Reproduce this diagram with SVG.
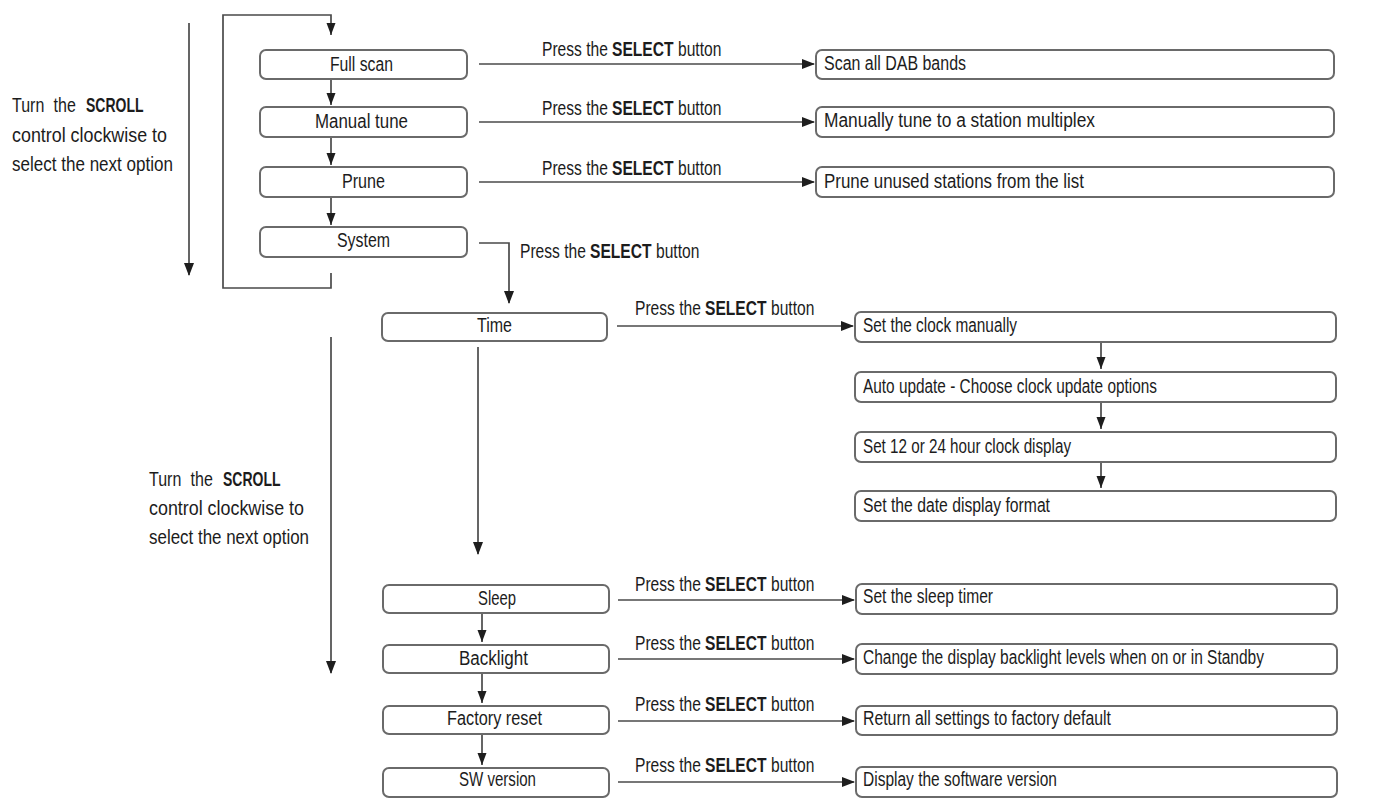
<svg xmlns="http://www.w3.org/2000/svg" width="1384" height="801" viewBox="0 0 1384 801">
<style>
text{font-family:"Liberation Sans",Arial,sans-serif;font-size:20px;fill:#1c1c1c}
.b{font-weight:bold}
.ws{word-spacing:6px}
.box{fill:#fff;stroke:#6a6a6a;stroke-width:2}
.ln{fill:none;stroke:#4a4a4a;stroke-width:1.7}
</style>
<defs>
<marker id="ah" markerUnits="userSpaceOnUse" markerWidth="14" markerHeight="12" refX="12" refY="5" orient="auto">
<path d="M0,0 L13,5 L0,10 z" fill="#1e1e1e"/>
</marker>
<marker id="as" markerUnits="userSpaceOnUse" markerWidth="14" markerHeight="12" refX="12" refY="4.5" orient="auto">
<path d="M0,0 L12,4.5 L0,9 z" fill="#1e1e1e"/>
</marker>
</defs>
<rect width="1384" height="801" fill="#fff"/>

<g id="connectors">
<line class="ln" x1="189" y1="23" x2="189" y2="275" marker-end="url(#ah)"/>
<path class="ln" d="M331,273 L331,288 L223,288 L223,15 L331,15 L331,35" marker-end="url(#as)"/>
<line class="ln" x1="331" y1="80" x2="331" y2="105" marker-end="url(#as)"/>
<line class="ln" x1="331" y1="138" x2="331" y2="165" marker-end="url(#as)"/>
<line class="ln" x1="331" y1="198" x2="331" y2="225" marker-end="url(#as)"/>
<line class="ln" x1="479" y1="64" x2="814" y2="64" marker-end="url(#ah)"/>
<line class="ln" x1="479" y1="122" x2="814" y2="122" marker-end="url(#ah)"/>
<line class="ln" x1="479" y1="182" x2="814" y2="182" marker-end="url(#ah)"/>
<path class="ln" d="M479,243 L509,243 L509,303" marker-end="url(#ah)"/>
<line class="ln" x1="617" y1="326" x2="853" y2="326" marker-end="url(#ah)"/>
<line class="ln" x1="1101" y1="343" x2="1101" y2="369" marker-end="url(#as)"/>
<line class="ln" x1="1101" y1="403" x2="1101" y2="429" marker-end="url(#as)"/>
<line class="ln" x1="1101" y1="463" x2="1101" y2="488" marker-end="url(#as)"/>
<line class="ln" x1="478" y1="347" x2="478" y2="554" marker-end="url(#ah)"/>
<line class="ln" x1="331" y1="337" x2="331" y2="673" marker-end="url(#ah)"/>
<line class="ln" x1="482" y1="614" x2="482" y2="642" marker-end="url(#as)"/>
<line class="ln" x1="482" y1="674" x2="482" y2="703" marker-end="url(#as)"/>
<line class="ln" x1="482" y1="735" x2="482" y2="765" marker-end="url(#as)"/>
<line class="ln" x1="618" y1="600" x2="854" y2="600" marker-end="url(#ah)"/>
<line class="ln" x1="618" y1="659" x2="854" y2="659" marker-end="url(#ah)"/>
<line class="ln" x1="618" y1="721" x2="854" y2="721" marker-end="url(#ah)"/>
<line class="ln" x1="618" y1="782" x2="854" y2="782" marker-end="url(#ah)"/>
</g>

<g id="scroll-note-1">
<text class="ws" transform="matrix(0.8 0 0 1 12 112)">Turn the</text>
<text class="b" transform="matrix(0.70 0 0 1 86 112)">SCROLL</text>
<text x="12" y="142" textLength="155" lengthAdjust="spacingAndGlyphs">control clockwise to</text>
<text x="12" y="171" textLength="161" lengthAdjust="spacingAndGlyphs">select the next option</text>
</g>
<g id="scroll-note-2">
<text class="ws" transform="matrix(0.8 0 0 1 149 486)">Turn the</text>
<text class="b" transform="matrix(0.70 0 0 1 223 486)">SCROLL</text>
<text x="149" y="515" textLength="155" lengthAdjust="spacingAndGlyphs">control clockwise to</text>
<text x="149" y="544" textLength="160" lengthAdjust="spacingAndGlyphs">select the next option</text>
</g>

<g id="select-labels">
<text transform="matrix(0.78 0 0 1 542 56)">Press the</text><text class="b" transform="matrix(0.78 0 0 1 612 56)">SELECT</text><text transform="matrix(0.78 0 0 1 678 56)">button</text>
<text transform="matrix(0.78 0 0 1 542 115)">Press the</text><text class="b" transform="matrix(0.78 0 0 1 612 115)">SELECT</text><text transform="matrix(0.78 0 0 1 678 115)">button</text>
<text transform="matrix(0.78 0 0 1 542 175)">Press the</text><text class="b" transform="matrix(0.78 0 0 1 612 175)">SELECT</text><text transform="matrix(0.78 0 0 1 678 175)">button</text>
<text transform="matrix(0.78 0 0 1 520 258)">Press the</text><text class="b" transform="matrix(0.78 0 0 1 590 258)">SELECT</text><text transform="matrix(0.78 0 0 1 656 258)">button</text>
<text transform="matrix(0.78 0 0 1 635 315)">Press the</text><text class="b" transform="matrix(0.78 0 0 1 705 315)">SELECT</text><text transform="matrix(0.78 0 0 1 771 315)">button</text>
<text transform="matrix(0.78 0 0 1 635 591)">Press the</text><text class="b" transform="matrix(0.78 0 0 1 705 591)">SELECT</text><text transform="matrix(0.78 0 0 1 771 591)">button</text>
<text transform="matrix(0.78 0 0 1 635 650)">Press the</text><text class="b" transform="matrix(0.78 0 0 1 705 650)">SELECT</text><text transform="matrix(0.78 0 0 1 771 650)">button</text>
<text transform="matrix(0.78 0 0 1 635 711)">Press the</text><text class="b" transform="matrix(0.78 0 0 1 705 711)">SELECT</text><text transform="matrix(0.78 0 0 1 771 711)">button</text>
<text transform="matrix(0.78 0 0 1 635 772)">Press the</text><text class="b" transform="matrix(0.78 0 0 1 705 772)">SELECT</text><text transform="matrix(0.78 0 0 1 771 772)">button</text>
</g>

<g id="full-scan"><rect class="box" x="260" y="50" width="207" height="29" rx="6"/><text x="330" y="71" textLength="63" lengthAdjust="spacingAndGlyphs">Full scan</text></g>
<g id="manual-tune"><rect class="box" x="260" y="107" width="207" height="30" rx="6"/><text x="315" y="128" textLength="93" lengthAdjust="spacingAndGlyphs">Manual tune</text></g>
<g id="prune"><rect class="box" x="260" y="167" width="207" height="30" rx="6"/><text x="342" y="188" textLength="43" lengthAdjust="spacingAndGlyphs">Prune</text></g>
<g id="system"><rect class="box" x="260" y="227" width="207" height="30" rx="6"/><text x="337" y="247" textLength="53" lengthAdjust="spacingAndGlyphs">System</text></g>

<g id="scan-all"><rect class="box" x="816" y="50" width="518" height="29" rx="6"/><text x="824" y="70" textLength="142" lengthAdjust="spacingAndGlyphs">Scan all DAB bands</text></g>
<g id="manually-tune"><rect class="box" x="816" y="107" width="518" height="30" rx="6"/><text x="824" y="127" textLength="271" lengthAdjust="spacingAndGlyphs">Manually tune to a station multiplex</text></g>
<g id="prune-unused"><rect class="box" x="816" y="167" width="518" height="30" rx="6"/><text x="824" y="188" textLength="260" lengthAdjust="spacingAndGlyphs">Prune unused stations from the list</text></g>

<g id="time"><rect class="box" x="382" y="313" width="225" height="28" rx="6"/><text x="477" y="332" textLength="35" lengthAdjust="spacingAndGlyphs">Time</text></g>
<g id="set-clock"><rect class="box" x="855" y="312" width="481" height="30" rx="6"/><text x="863" y="332" textLength="154" lengthAdjust="spacingAndGlyphs">Set the clock manually</text></g>
<g id="auto-update"><rect class="box" x="855" y="372" width="481" height="30" rx="6"/><text x="863" y="393" textLength="294" lengthAdjust="spacingAndGlyphs">Auto update - Choose clock update options</text></g>
<g id="clock-display"><rect class="box" x="855" y="432" width="481" height="30" rx="6"/><text x="863" y="453" textLength="208" lengthAdjust="spacingAndGlyphs">Set 12 or 24 hour clock display</text></g>
<g id="date-format"><rect class="box" x="855" y="491" width="481" height="30" rx="6"/><text x="863" y="512" textLength="187" lengthAdjust="spacingAndGlyphs">Set the date display format</text></g>

<g id="sleep"><rect class="box" x="383" y="585" width="226" height="28" rx="6"/><text x="478" y="605" textLength="38" lengthAdjust="spacingAndGlyphs">Sleep</text></g>
<g id="backlight"><rect class="box" x="383" y="645" width="226" height="28" rx="6"/><text x="459" y="665" textLength="69" lengthAdjust="spacingAndGlyphs">Backlight</text></g>
<g id="factory-reset"><rect class="box" x="383" y="706" width="226" height="28" rx="6"/><text x="447" y="725" textLength="95" lengthAdjust="spacingAndGlyphs">Factory reset</text></g>
<g id="sw-version"><rect class="box" x="383" y="768" width="226" height="29" rx="6"/><text x="459" y="786" textLength="77" lengthAdjust="spacingAndGlyphs">SW version</text></g>

<g id="sleep-timer"><rect class="box" x="856" y="584" width="481" height="30" rx="6"/><text x="863" y="603" textLength="130" lengthAdjust="spacingAndGlyphs">Set the sleep timer</text></g>
<g id="backlight-levels"><rect class="box" x="856" y="644" width="481" height="30" rx="6"/><text x="863" y="664" textLength="401" lengthAdjust="spacingAndGlyphs">Change the display backlight levels when on or in Standby</text></g>
<g id="factory-default"><rect class="box" x="856" y="706" width="481" height="29" rx="6"/><text x="863" y="725" textLength="248" lengthAdjust="spacingAndGlyphs">Return all settings to factory default</text></g>
<g id="software-version"><rect class="box" x="856" y="767" width="481" height="30" rx="6"/><text x="863" y="786" textLength="194" lengthAdjust="spacingAndGlyphs">Display the software version</text></g>
</svg>
